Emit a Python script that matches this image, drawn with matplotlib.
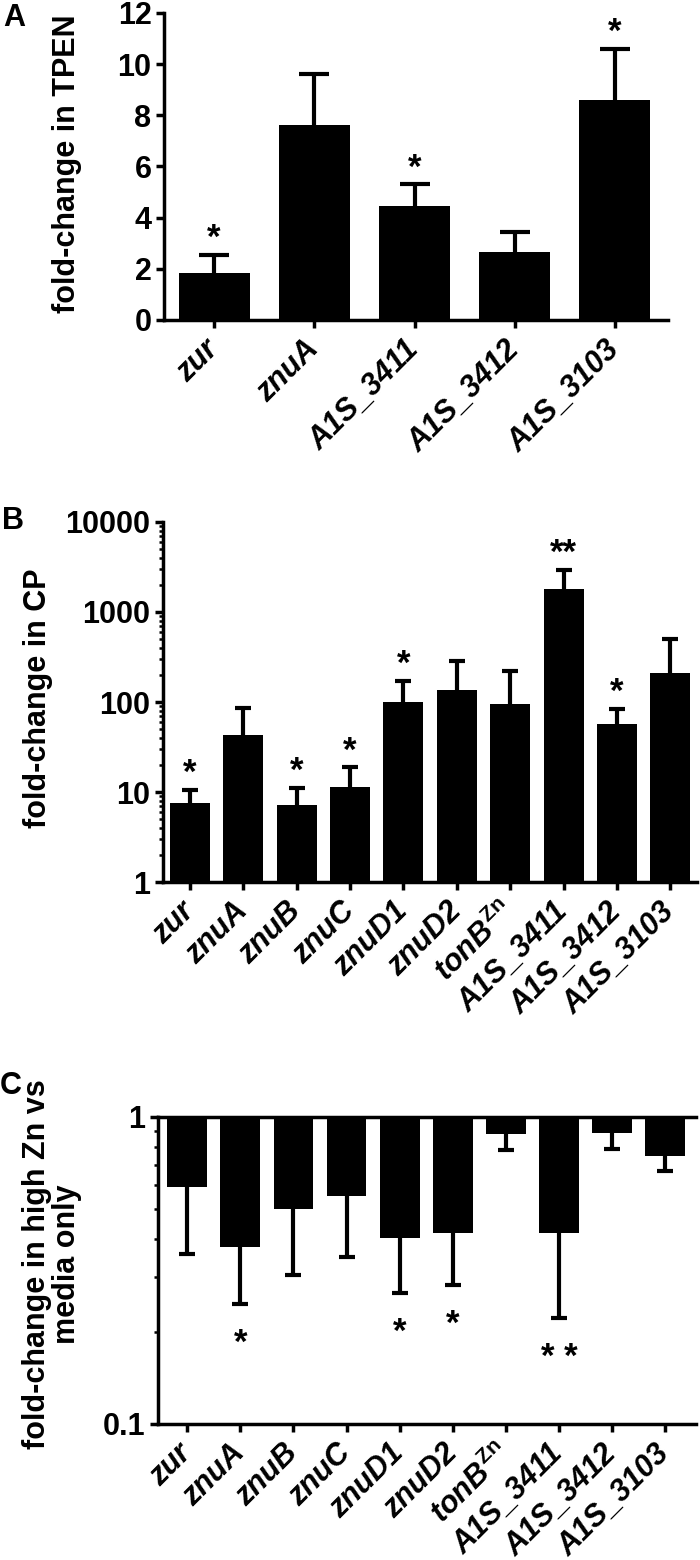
import matplotlib
matplotlib.use("Agg")
import matplotlib.pyplot as plt
import numpy as np
from matplotlib.ticker import FuncFormatter, NullFormatter, LogLocator

plt.rcParams['font.family'] = ['Liberation Sans', 'DejaVu Sans']
plt.rcParams['font.weight'] = 'bold'
plt.rcParams['mathtext.fontset'] = 'custom'
plt.rcParams['mathtext.it'] = 'Liberation Sans:italic:bold'
plt.rcParams['mathtext.rm'] = 'Liberation Sans'
plt.rcParams['mathtext.bf'] = 'Liberation Sans:bold'

# panel A: TPEN
genes_a = ['zur', 'znuA', 'A1S_3411', 'A1S_3412', 'A1S_3103']
mean_a = [1.84, 7.62, 4.45, 2.66, 8.59]
upper_a = [2.54, 9.6, 5.3, 3.44, 10.6]
stars_a = ['*', '', '*', '', '*']

# panel B: calprotectin (log)
genes_b = ['zur', 'znuA', 'znuB', 'znuC', 'znuD1', 'znuD2',
           r'$\mathit{tonB}^{\mathrm{Zn}}$', 'A1S_3411', 'A1S_3412', 'A1S_3103']
mean_b = [7.6, 43, 7.2, 11.4, 100, 135, 95, 1800, 57, 210]
upper_b = [10.5, 86, 11, 18.8, 170, 288, 220, 2930, 84, 500]
stars_b = ['*', '', '*', '*', '*', '', '', '**', '*', '']

# panel C: high Zn vs media only (log, bars hang from 1)
genes_c = genes_b
mean_c = [0.59, 0.377, 0.50, 0.553, 0.404, 0.419, 0.88, 0.42, 0.887, 0.746]
lower_c = [0.358, 0.246, 0.306, 0.35, 0.267, 0.284, 0.78, 0.221, 0.787, 0.667]
stars_c = ['', '*', '', '', '*', '*', '', '* *', '', '']

FS = 22
SPW = 2.5

fig = plt.figure(figsize=(7, 15.6), dpi=100)


def style(ax):
    for s in ['right', 'top']:
        ax.spines[s].set_visible(False)
    for s in ['left', 'bottom']:
        ax.spines[s].set_linewidth(SPW)
    ax.tick_params(which='major', length=6, width=SPW, labelsize=FS, pad=3)
    ax.tick_params(which='minor', length=3, width=1.8)
    for t in ax.get_yticklabels():
        t.set_fontweight('bold')


def xlabels(ax, x, names):
    ax.set_xticks(x)
    ax.set_xticklabels(names, rotation=45, ha='right', va='center',
                       rotation_mode='anchor', fontstyle='italic',
                       fontweight='bold', fontsize=FS)
    ax.tick_params(axis='x', pad=12)


def errbars(ax, x, y, lo, hi, cap, keep):
    eb = ax.errorbar(x, y, yerr=[lo, hi], fmt='none', ecolor='black',
                     elinewidth=3, capsize=cap, capthick=3, zorder=1)
    # one-sided bars: hide the cap sitting on the bar end
    eb[1][1 - keep].set_visible(False)


def put_stars(ax, x, ys, stars, off):
    for xi, yi, s in zip(x, ys, stars):
        if s:
            ax.annotate(s, xy=(xi, yi), xytext=(0, off), textcoords='offset points',
                        ha='center', va='baseline', fontsize=25, fontweight='bold')


# ---- A ----
axA = fig.add_axes([0.2343, 0.7949, 0.72, 0.1968])
xa = np.arange(len(genes_a))
ma = np.array(mean_a)
errbars(axA, xa, ma, np.zeros_like(ma), np.array(upper_a) - ma, 11, 1)
axA.bar(xa, ma, width=0.71, color='black', zorder=2)
axA.set_xlim(-0.5, 4.53)
axA.set_ylim(0, 12)
axA.set_yticks(np.arange(0, 13, 2))
style(axA)
xlabels(axA, xa, genes_a)
put_stars(axA, xa, upper_a, stars_a, 5)
fig.text(67 / 700, 1 - 164 / 1560, 'fold-change in TPEN', rotation=90,
         ha='center', va='center', fontsize=FS, fontweight='bold')

# ---- B ----
axB = fig.add_axes([0.2329, 0.4346, 0.7629, 0.2308])
xb = np.arange(len(genes_b))
mb = np.array(mean_b, dtype=float)
axB.set_yscale('log')
errbars(axB, xb, mb, np.zeros_like(mb), np.array(upper_b) - mb, 6, 1)
axB.bar(xb, mb - 1, bottom=1, width=0.75, color='black', zorder=2)
axB.set_xlim(-0.5, 9.5)
axB.set_ylim(1, 10000)
axB.yaxis.set_major_locator(LogLocator(base=10, numticks=10))
axB.yaxis.set_minor_locator(LogLocator(base=10, subs=np.arange(2, 10), numticks=10))
axB.yaxis.set_major_formatter(FuncFormatter(lambda v, p: f'{v:g}'))
axB.yaxis.set_minor_formatter(NullFormatter())
style(axB)
xlabels(axB, xb, genes_b)
put_stars(axB, xb, upper_b, stars_b, 5)
fig.text(38 / 700, 1 - 698 / 1560, 'fold-change in CP', rotation=90,
         ha='center', va='center', fontsize=FS, fontweight='bold')

# ---- C ----
axC = fig.add_axes([0.2257, 0.0872, 0.7686, 0.1968])
xc = np.arange(len(genes_c))
mc = np.array(mean_c)
axC.set_yscale('log')
errbars(axC, xc, mc, mc - np.array(lower_c), np.zeros_like(mc), 6, 0)
axC.bar(xc, mc - 1, bottom=1, width=0.75, color='black', zorder=2)
axC.set_xlim(-0.55, 9.58)
axC.set_ylim(0.1, 1)
axC.yaxis.set_major_locator(LogLocator(base=10, numticks=10))
axC.yaxis.set_minor_locator(LogLocator(base=10, subs=np.arange(2, 10), numticks=10))
axC.yaxis.set_major_formatter(FuncFormatter(lambda v, p: f'{v:g}'))
axC.yaxis.set_minor_formatter(NullFormatter())
style(axC)
axC.spines['top'].set_visible(True)
axC.spines['top'].set_linewidth(SPW)
xlabels(axC, xc, genes_c)
put_stars(axC, xc, lower_c, stars_c, -35)
fig.text(52 / 700, 1 - 1264 / 1560, 'fold-change in high Zn vs\nmedia only', rotation=90,
         ha='center', va='center', fontsize=FS, fontweight='bold', linespacing=1.0)

# panel letters
fig.text(3 / 700, 1 - 3 / 1560, 'A', ha='left', va='top', fontsize=FS, fontweight='bold')
fig.text(2 / 700, 1 - 506 / 1560, 'B', ha='left', va='top', fontsize=FS, fontweight='bold')
fig.text(0 / 700, 1 - 1071 / 1560, 'C', ha='left', va='top', fontsize=FS, fontweight='bold')

fig.savefig('out.png', dpi=100)
